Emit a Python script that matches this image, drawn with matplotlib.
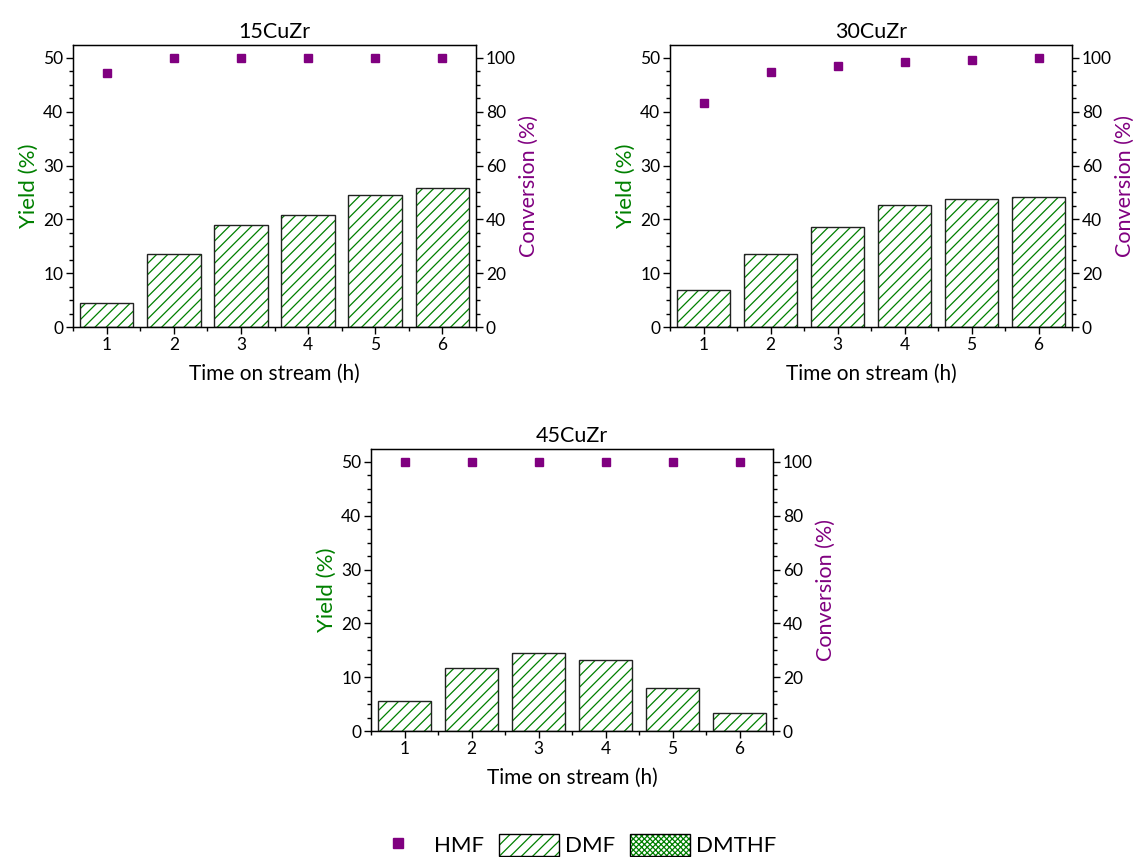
import matplotlib
matplotlib.use("Agg")
import matplotlib.pyplot as plt
from matplotlib.patches import Patch
from matplotlib.lines import Line2D
from matplotlib.legend_handler import HandlerTuple
from matplotlib.ticker import MultipleLocator

plt.rcParams['font.family'] = ['Lato', 'DejaVu Sans']
plt.rcParams['hatch.linewidth'] = 0.9

hours = [1, 2, 3, 4, 5, 6]
titles = ["15CuZr", "30CuZr", "45CuZr"]
dmf_15 = [4.5, 13.6, 19.0, 20.8, 24.5, 25.8]
dmf_30 = [6.9, 13.6, 18.6, 22.7, 23.8, 24.2]
dmf_45 = [5.6, 11.7, 14.5, 13.2, 8.0, 3.3]
conv_15 = [94.4, 100, 100, 100, 100, 100]
conv_30 = [83.3, 94.8, 97.0, 98.5, 99.3, 100]
conv_45 = [100, 100, 100, 100, 100, 100]
legend_labels = ["HMF", "DMF", "DMTHF"]

GREEN = "#008000"
PURPLE = "#800080"

W, H = 1133, 857
fig = plt.figure(figsize=(W / 100, H / 100), dpi=100)

def rect(l, r, t, b):
    return [l / W, 1 - b / H, (r - l) / W, (b - t) / H]

boxes = [rect(73, 476, 45, 327), rect(670, 1072, 45, 327), rect(371, 773, 449, 731)]
dmf_all = [dmf_15, dmf_30, dmf_45]
conv_all = [conv_15, conv_30, conv_45]

for box, title, dmf, conv in zip(boxes, titles, dmf_all, conv_all):
    ax = fig.add_axes(box)
    ax.bar(hours, dmf, 0.8, color="white", edgecolor=GREEN, hatch="///", lw=0)
    ax.bar(hours, dmf, 0.8, fill=False, edgecolor="#222222", lw=1.0)
    ax.set_xlim(0.5, 6.5)
    ax.set_ylim(0, 52.4)
    ax.yaxis.set_major_locator(MultipleLocator(10))
    ax.yaxis.set_minor_locator(MultipleLocator(2.5))
    ax.xaxis.set_major_locator(MultipleLocator(1))
    ax.xaxis.set_minor_locator(MultipleLocator(0.5))
    ax.tick_params(which="both", direction="out", labelsize=12.5, top=False, right=False)
    ax.tick_params(which="major", length=5, width=1, pad=2)
    ax.tick_params(which="minor", length=3, width=1)
    ax.set_ylabel("Yield (%)", color=GREEN, fontsize=16, labelpad=3)
    ax.set_xlabel("Time on stream (h)", fontsize=15, labelpad=8)
    ax.set_title(title, fontsize=15.5, pad=5)
    for s in ax.spines.values():
        s.set_linewidth(1.0)

    ax2 = ax.twinx()
    ax2.plot(hours, conv, ls="none", marker="s", ms=5.5, color=PURPLE)
    ax2.set_ylim(0, 104.8)
    ax2.yaxis.set_major_locator(MultipleLocator(20))
    ax2.yaxis.set_minor_locator(MultipleLocator(5))
    ax2.tick_params(which="both", direction="out", labelsize=12.5)
    ax2.tick_params(which="major", length=5, width=1, pad=2)
    ax2.tick_params(which="minor", length=3, width=1)
    ax2.set_ylabel("Conversion (%)", color=PURPLE, fontsize=15.5, labelpad=2)

h_hmf = Line2D([], [], ls="none", marker="s", ms=7, color=PURPLE)
h_dmf = (Patch(facecolor="white", edgecolor=GREEN, hatch="///", lw=0),
         Patch(fill=False, edgecolor="black", lw=1.0))
h_dmthf = (Patch(facecolor="white", edgecolor=GREEN, hatch="xxxxxx", lw=0),
           Patch(fill=False, edgecolor="black", lw=1.0))
fig.legend([h_hmf, h_dmf, h_dmthf], legend_labels, ncol=3, frameon=False,
           loc="center", bbox_to_anchor=(0.505, 0.014), fontsize=16,
           handlelength=2.7, handleheight=1.17, handletextpad=0.25, columnspacing=0.7,
           borderpad=0.1,
           handler_map={tuple: HandlerTuple(ndivide=1, pad=0)})

fig.savefig("out.png", dpi=100)
